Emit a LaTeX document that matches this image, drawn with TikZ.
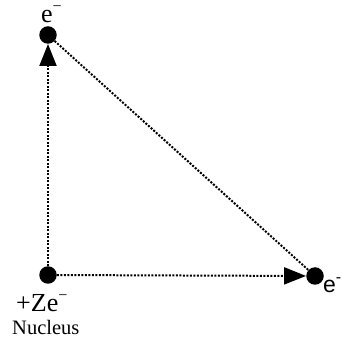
\documentclass[tikz,border=0pt]{standalone}
\usepackage{fontspec}
\setmainfont{Liberation Serif}
\setsansfont{Liberation Sans}
\usetikzlibrary{arrows.meta,positioning}
\newcommand{\chg}[2]{\raisebox{#1}{\fontsize{16}{16}\selectfont #2}}
\tikzset{
  dot/.style={circle,fill=black,inner sep=0pt,minimum size=17.5pt},
  conn/.style={line width=2pt,dash pattern=on 2pt off 1.5pt},
  ar/.style={conn,-{Triangle[length=22pt,width=17pt]}},
  lab/.style={inner sep=0pt,anchor=base west},
  big/.style={lab,font=\fontsize{26}{30}\selectfont},
  small/.style={lab,font=\fontsize{20.5}{24}\selectfont}
}
\begin{document}
\begin{tikzpicture}[x=1pt,y=-1pt]
\useasboundingbox (0,0) rectangle (348,344);
\node[dot] (nuc) at (48,275) {};
\node[dot] (etop) at (48,35) {};
\node[dot] (eright) at (315,276) {};
\draw[ar] (nuc) -- (etop);
\draw[ar] (nuc) -- (eright);
\draw[conn] (etop) -- (eright);
\node[big] (ltop) at (41,22.5) {e\chg{11pt}{−}};
\node[big,font=\fontsize{23}{27}\sffamily] (lright) at (323,293) {e\chg{10pt}{\sffamily -}};
\node[big] (lcharge) at (16,312) {+Ze\chg{11pt}{−}};
\node[small] (lnuc) at (12,335) {Nucleus};
\end{tikzpicture}
\end{document}
